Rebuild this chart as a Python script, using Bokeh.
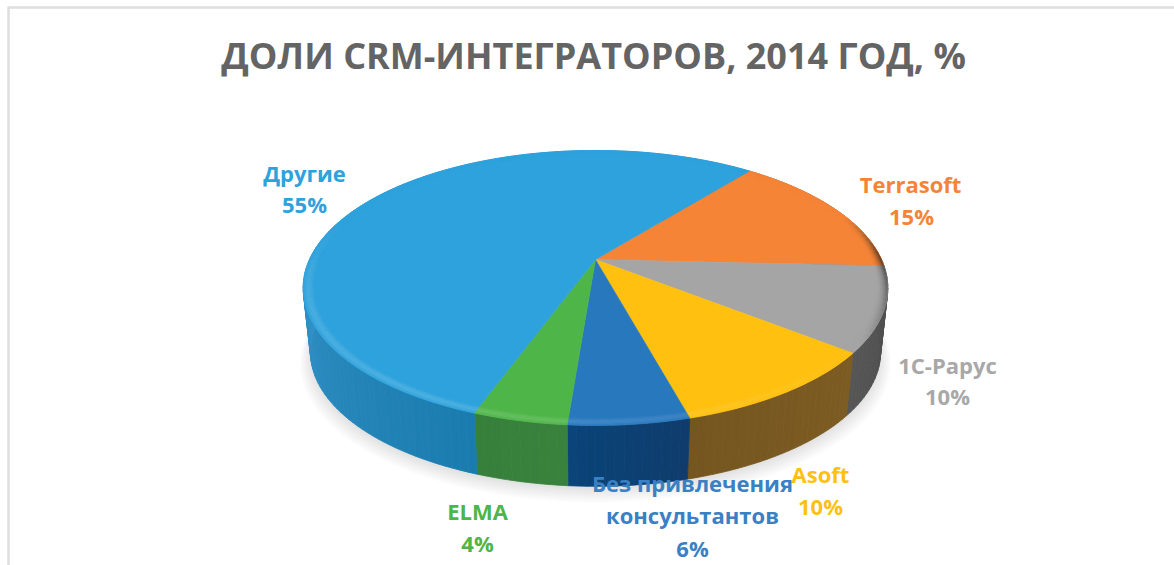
import math
from bokeh.plotting import figure
from bokeh.models import Range1d
from bokeh.core.properties import value
from bokeh.embed import file_html
from bokeh.resources import INLINE

# Data
title_text = "ДОЛИ CRM-ИНТЕГРАТОРОВ, 2014 ГОД, %"
names = ["Terrasoft", "1С-Рарус", "Asoft", "Без привлечения консультантов", "ELMA", "Другие"]
shares = [15, 9.9, 10.1, 5.5, 4.3, 55.2]

# Style
top_colors = ["#F58437", "#A5A5A5", "#FFC010", "#2878BE", "#4EB548", "#2EA2DC"]
side_from = ["#8F4E20", "#4A4A4A", "#7D5C22", "#0F3C6C", "#38823D", "#1A7CAE"]
side_to = ["#8F4E20", "#565656", "#755620", "#0A4479", "#36803B", "#3A98D0"]
label_colors = ["#F58437", "#A8A8A8", "#FFC010", "#3A80C4", "#4EB548", "#2EA2DC"]
label_lines = [
    [("Terrasoft", 910, 183), ("15%", 911, 215)],
    [("1С-Рарус", 947, 364), ("10%", 947, 395)],
    [("Asoft", 820, 473), ("10%", 820, 505)],
    [("Без привлечения", 692, 482), ("консультантов", 692, 514), ("6%", 692, 547)],
    [("ELMA", 477, 510), ("4%", 477, 542)],
    [("Другие", 304, 172), ("55%", 304, 203)],
]
start_deg = 38.7
FONT = "Open Sans"
CX, CY, A, B, K = 595.0, 259.0, 286.0, 131.6, 0.207
DEPTH, SCALE = 65.0, 0.975


def proj(theta, r=1.0, s=1.0, dy=0.0):
    t = math.radians(theta)
    u, v = r * math.sin(t), -r * math.cos(t)
    w = 1 - K * v
    return CX + s * A * u / w, CY + s * B * v / w + dy


def h2rgb(c):
    return tuple(int(c[i:i + 2], 16) for i in (1, 3, 5))


def mix(c1, c2, t):
    a, b = h2rgb(c1), h2rgb(c2)
    return "#%02x%02x%02x" % tuple(round(x + (y - x) * t) for x, y in zip(a, b))


p = figure(width=1174, height=565, x_range=Range1d(0, 1174), y_range=Range1d(565, 0),
           toolbar_location=None, output_backend="svg", min_border=0,
           background_fill_color="white", border_fill_color="white", outline_line_color=None)
p.axis.visible = False
p.grid.visible = False

# frame lines
p.segment([8, 7], [7, 7], [8, 1174], [565, 7], line_color="#DEDEDC", line_width=2.5)

# soft shadow
for i in range(7):
    s = SCALE * (1.0 + 0.006 * i)
    pts = [proj(a, 1.0, s, DEPTH + 3 + 1.2 * i) for a in range(0, 360, 2)]
    p.patch([q[0] for q in pts], [q[1] for q in pts], fill_color="#808080",
            fill_alpha=0.035, line_color=None)

# slice boundaries from shares
bounds = [start_deg]
for sh in shares:
    bounds.append(bounds[-1] + sh * 3.6)

# side wall
xs, ys, cols = [], [], []
for i in range(len(shares)):
    a0, a1 = bounds[i], bounds[i + 1]
    n = max(2, int((a1 - a0) / 1.5))
    for j in range(n):
        t0 = a0 + (a1 - a0) * j / n
        t1 = a0 + (a1 - a0) * (j + 1) / n
        qs = [proj(t0), proj(t1), proj(t1, 1, SCALE, DEPTH), proj(t0, 1, SCALE, DEPTH)]
        xs.append([q[0] for q in qs])
        ys.append([q[1] for q in qs])
        frac = (j + 0.5) / n
        if i == 5:
            frac = min(1.0, frac / 0.45)
        cols.append(mix(side_from[i], side_to[i], frac))
p.patches(xs, ys, fill_color=cols, line_color=cols, line_width=0.8)

# top face
for i in range(len(shares)):
    a0, a1 = bounds[i], bounds[i + 1]
    n = max(4, int((a1 - a0) / 1.0))
    pts = [(CX, CY)] + [proj(a0 + (a1 - a0) * j / n) for j in range(n + 1)]
    p.patch([q[0] for q in pts], [q[1] for q in pts], fill_color=top_colors[i],
            line_color=top_colors[i], line_width=0.5)

# bevel on the rim
rings = [0.962 + 0.038 * k / 6 for k in range(7)]
xs, ys, cols = [], [], []
for i in range(len(shares)):
    a0, a1 = bounds[i], bounds[i + 1]
    n = max(2, int((a1 - a0) / 2))
    for j in range(n):
        t0 = a0 + (a1 - a0) * j / n
        t1 = a0 + (a1 - a0) * (j + 1) / n
        mid = (t0 + t1) / 2
        lit = math.cos(math.radians(mid - 215))
        if mid < 90:
            front = max(0.0, (mid - 70) / 20)
        elif mid > 265:
            front = max(0.0, (290 - mid) / 25)
        else:
            front = 1.0
        for k in range(6):
            r0, r1 = rings[k], rings[k + 1]
            tt = (k + 0.5) / 6
            qs = [proj(t0, r0), proj(t1, r0), proj(t1, r1), proj(t0, r1)]
            if lit >= 0:
                c = mix(top_colors[i], "#ffffff", 0.2 * lit * front * tt ** 0.5 * math.sin(math.pi * min(0.92, tt)))
            else:
                c = mix(top_colors[i], "#1a1a1a", 0.8 * min(1, -lit * 1.6) * front * tt ** 2)
            xs.append([q[0] for q in qs])
            ys.append([q[1] for q in qs])
            cols.append(c)
p.patches(xs, ys, fill_color=cols, line_color=cols, line_width=0.4)

# labels
for lines, col in zip(label_lines, label_colors):
    tx = [l[0] for l in lines]
    p.text([l[1] for l in lines], [l[2] for l in lines], text=tx, text_color=col,
           text_font=value(FONT), text_font_size="22px", text_font_style="bold",
           text_align="center", text_baseline="middle")

p.text([593], [55], text=[title_text], text_color="#646464", text_font=value(FONT),
       text_font_size="36px", text_font_style="bold", text_align="center", text_baseline="middle")

open("out.html", "w").write(file_html(p, INLINE))
